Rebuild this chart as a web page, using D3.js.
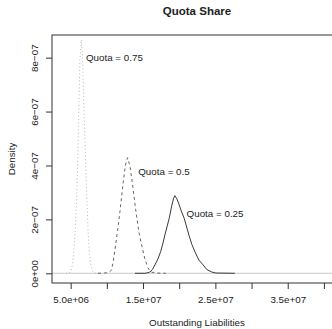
<!DOCTYPE html>
<html>
<head>
<meta charset="utf-8">
<script src="https://cdn.jsdelivr.net/npm/d3@7"></script>
<style>
  body { margin: 0; background: #fff; }
  text { font-family: "Liberation Sans", Arial, Helvetica, sans-serif; fill: #222; }
</style>
</head>
<body>
<div id="chart"></div>
<script>
// density curves (x in liabilities, y in density)
const q75X = [4.35e6, 4.77e6, 5.04e6, 5.32e6, 5.59e6, 5.83e6, 6.05e6, 6.28e6, 6.46e6, 6.63e6, 6.84e6, 7.02e6, 7.21e6, 7.46e6, 7.73e6, 8.08e6, 8.49e6, 9.05e6];
const q75Y = [0, 0, 8.5e-9, 4.2e-8, 1.42e-7, 2.72e-7, 5.13e-7, 7.92e-7, 8.66e-7, 8.10e-7, 6.06e-7, 4.58e-7, 2.91e-7, 1.24e-7, 3.8e-8, 5e-9, 0, 0];

const q50X = [8.77e6, 9.74e6, 10.29e6, 10.66e6, 10.91e6, 11.21e6, 11.53e6, 11.81e6, 12.22e6, 12.57e6, 12.87e6, 13.19e6, 13.56e6, 14.02e6, 14.43e6, 14.81e6, 15.26e6, 15.68e6, 16.09e6, 16.78e6, 18.16e6];
const q50Y = [0, 1e-9, 4e-9, 1.2e-8, 4.9e-8, 1.05e-7, 1.68e-7, 2.29e-7, 3.28e-7, 4.02e-7, 4.29e-7, 3.98e-7, 3.28e-7, 2.29e-7, 1.53e-7, 1.05e-7, 5.3e-8, 2.0e-8, 5e-9, 1e-9, 0];

const q25X = [13.88e6, 15.26e6, 15.68e6, 15.95e6, 16.30e6, 16.64e6, 17.06e6, 17.43e6, 17.75e6, 18.02e6, 18.62e6, 18.99e6, 19.24e6, 19.40e6, 19.68e6, 19.96e6, 20.23e6, 20.69e6, 21.34e6, 21.75e6, 22.17e6, 22.72e6, 23.31e6, 23.82e6, 24.47e6, 25.07e6, 27.69e6];
const q25Y = [0, 0, 2e-9, 5e-9, 1.4e-8, 3.1e-8, 5.3e-8, 8.0e-8, 1.11e-7, 1.42e-7, 2.04e-7, 2.53e-7, 2.79e-7, 2.88e-7, 2.76e-7, 2.57e-7, 2.35e-7, 2.04e-7, 1.42e-7, 1.07e-7, 8.0e-8, 4.9e-8, 3.1e-8, 1.4e-8, 5e-9, 1e-9, 0];

const labels = ["Quota = 0.75", "Quota = 0.5", "Quota = 0.25"];
const labelX = [7.11e6, 14.34e6, 21.02e6];
const labelY = [8.0e-7, 3.77e-7, 2.2e-7];

const xTicks = [5e6, 1e7, 1.5e7, 2e7, 2.5e7, 3e7, 3.5e7, 4e7];
const xTickLabels = ["5.0e+06", "", "1.5e+07", "", "2.5e+07", "", "3.5e+07", ""];
const yTicks = [0, 2e-7, 4e-7, 6e-7, 8e-7];
const yTickLabels = ["0e+00", "2e\u221207", "4e\u221207", "6e\u221207", "8e\u221207"];

const width = 332, height = 329;
const plotL = 52, plotR = 342, plotT = 35, plotB = 283;

const svg = d3.select("#chart").append("svg")
    .attr("width", width)
    .attr("height", height);

const x = d3.scaleLinear().domain([2.42e6, 42.5e6]).range([plotL, plotR]);
const y = d3.scaleLinear().domain([-3.6e-8, 8.84e-7]).range([plotB, plotT]);

// grey zero line
svg.append("line")
    .attr("x1", plotL).attr("x2", plotR)
    .attr("y1", y(0)).attr("y2", y(0))
    .attr("stroke", "#c8c8c8").attr("stroke-width", 1);

const line = d3.line().x(d => x(d[0])).y(d => y(d[1]));

const curves = [
    {xs: q75X, ys: q75Y, color: "#b8b8b8", dash: "1,2.5"},
    {xs: q50X, ys: q50Y, color: "#666", dash: "3,3"},
    {xs: q25X, ys: q25Y, color: "#3a3a3a", dash: null}
];

curves.forEach(c => {
    svg.append("path")
        .datum(c.xs.map((v, i) => [v, c.ys[i]]))
        .attr("d", line)
        .attr("fill", "none")
        .attr("stroke", c.color)
        .attr("stroke-width", 1)
        .attr("stroke-dasharray", c.dash);
});

// annotations
labels.forEach((t, i) => {
    svg.append("text")
        .attr("x", x(labelX[i]))
        .attr("y", y(labelY[i]))
        .attr("dy", "0.35em")
        .attr("font-size", "9.8px")
        .text(t);
});

// box
svg.append("rect")
    .attr("x", plotL).attr("y", plotT)
    .attr("width", plotR - plotL).attr("height", plotB - plotT)
    .attr("fill", "none").attr("stroke", "#333").attr("stroke-width", 1);

// axes
const xAxis = svg.append("g")
    .attr("transform", `translate(0,${plotB})`)
    .call(d3.axisBottom(x).tickValues(xTicks).tickSize(6).tickPadding(7)
        .tickFormat((d, i) => xTickLabels[i]));
xAxis.select(".domain").remove();

const yAxis = svg.append("g")
    .attr("transform", `translate(${plotL},0)`)
    .call(d3.axisLeft(y).tickValues(yTicks).tickSize(6).tickFormat((d, i) => yTickLabels[i]));
yAxis.select(".domain").remove();
yAxis.selectAll(".tick text")
    .attr("transform", "rotate(-90)")
    .attr("x", 0)
    .attr("dx", 0)
    .attr("y", -14)
    .attr("dy", 0)
    .attr("text-anchor", "middle");

svg.selectAll(".tick line").attr("stroke", "#333");
svg.selectAll(".tick text")
    .attr("font-size", "9.8px")
    .attr("fill", "#222")
    .style("font-family", "'Liberation Sans', Arial, sans-serif");

// titles
svg.append("text")
    .attr("x", (plotL + plotR) / 2).attr("y", 15)
    .attr("text-anchor", "middle")
    .attr("font-size", "11.5px")
    .attr("font-weight", "bold")
    .text("Quota Share");

svg.append("text")
    .attr("x", (plotL + plotR) / 2).attr("y", 326)
    .attr("text-anchor", "middle")
    .attr("font-size", "9.8px")
    .text("Outstanding Liabilities");

svg.append("text")
    .attr("transform", `translate(15,${(plotT + plotB) / 2}) rotate(-90)`)
    .attr("text-anchor", "middle")
    .attr("font-size", "9.8px")
    .text("Density");
</script>
</body>
</html>
